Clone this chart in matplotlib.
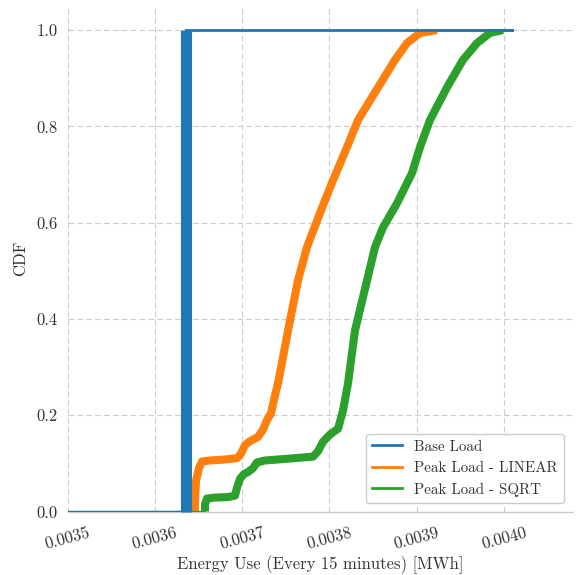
import numpy as np
import matplotlib
matplotlib.use("Agg")
import matplotlib.pyplot as plt
from matplotlib.patches import Rectangle

plt.rcParams['font.family'] = ['cmr10', 'DejaVu Serif']
plt.rcParams['axes.formatter.use_mathtext'] = True
plt.rcParams['mathtext.fontset'] = 'cm'

# ---- data ----
series_names = ["Base Load", "Peak Load - LINEAR", "Peak Load - SQRT"]
series_colors = ["#1f77b4", "#ff7f0e", "#2ca02c"]

base_energy = [0.0036352, 0.0036352, 0.0036352]
base_cdf = [0.0, 0.5, 1.0]

linear_energy = [0.0036460, 0.0036460, 0.0036472, 0.0036506, 0.0036541, 0.0036632,
                 0.0036804, 0.0036942, 0.0036987, 0.0037033, 0.0037090, 0.0037182,
                 0.0037239, 0.0037285, 0.0037331, 0.0037388, 0.0037411, 0.0037468,
                 0.0037526, 0.0037640, 0.0037743, 0.0037892, 0.0038041, 0.0038202,
                 0.0038328, 0.0038557, 0.0038751, 0.0038889, 0.0039038, 0.0039233]
linear_cdf = [0.0, 0.02, 0.064, 0.09, 0.104, 0.106,
              0.108, 0.111, 0.12, 0.138, 0.146, 0.155,
              0.17, 0.19, 0.204, 0.25, 0.266, 0.32,
              0.376, 0.48, 0.549, 0.62, 0.688, 0.757,
              0.813, 0.881, 0.938, 0.973, 0.994, 1.0]

sqrt_energy = [0.0036575, 0.0036575, 0.0036598, 0.0036690, 0.0036838, 0.0036919,
               0.0036942, 0.0036976, 0.0037022, 0.0037067, 0.0037125, 0.0037171,
               0.0037262, 0.0037549, 0.0037812, 0.0037869, 0.0037927, 0.0038007,
               0.0038099, 0.0038156, 0.0038213, 0.0038293, 0.0038431, 0.0038522,
               0.0038614, 0.0038774, 0.0038946, 0.0039038, 0.0039152, 0.0039347,
               0.0039530, 0.0039691, 0.0039840, 0.0039989]
sqrt_cdf = [0.0, 0.015, 0.027, 0.029, 0.030, 0.033,
            0.05, 0.068, 0.078, 0.082, 0.09, 0.102,
            0.106, 0.110, 0.114, 0.125, 0.145, 0.160,
            0.172, 0.21, 0.266, 0.376, 0.48, 0.549,
            0.59, 0.64, 0.703, 0.757, 0.813, 0.881,
            0.938, 0.973, 0.994, 1.0]

global_max = 0.0040097
x_limits = (0.0035, 0.004079)
x_ticks = [0.0035, 0.0036, 0.0037, 0.0038, 0.0039, 0.0040]
x_ticklabels = ["0.0035", "0.0036", "0.0037", "0.0038", "0.0039", "0.0040"]
y_ticks = [0.0, 0.2, 0.4, 0.6, 0.8, 1.0]

fig = plt.figure(figsize=(5.79, 5.75), dpi=100)
ax = fig.add_axes([0.1166, 0.1104, 0.9896 - 0.1166, 0.9896 - 0.1104])

all_data = [(base_energy, base_cdf), (linear_energy, linear_cdf), (sqrt_energy, sqrt_cdf)]
widths = [8.0, 5.8, 5.8]
zorders = [5, 3, 4]
for (xs, ys), name, col, lw, z in zip(all_data, series_names, series_colors, widths, zorders):
    line, = ax.plot(xs, ys, color=col, lw=lw, solid_capstyle='butt',
                    solid_joinstyle='round', zorder=z)
    clip = Rectangle((x_limits[0] - 0.001, -0.1), 0.003, 1.1 + 0.003,
                     transform=ax.transData, visible=False)
    ax.add_patch(clip)
    line.set_clip_path(clip)
    # thin tails: from the left edge at CDF 0, and to the global max at CDF 1
    ax.plot([x_limits[0] - 0.001, xs[0]], [0, 0], color=col, lw=1.6, zorder=z - 0.5)
    ax.plot([xs[-1], global_max], [1, 1], color=col, lw=2.0, zorder=z)
    ax.plot([], [], color=col, lw=2, label=name)

ax.set_xlim(*x_limits)
ax.set_ylim(0, 1.05)
ax.set_xticks(x_ticks)
ax.set_xticklabels(x_ticklabels, rotation=15)
ax.set_yticks(y_ticks)
ax.set_yticklabels([f"{v:.1f}" for v in y_ticks])
ax.tick_params(axis='x', length=0, labelsize=12, colors='#333333', pad=10)
ax.tick_params(axis='y', length=0, labelsize=12, colors='#333333', pad=7)

ax.grid(True, color='#cccccc', ls=(0, (5, 3)), lw=0.8, zorder=0)
ax.set_axisbelow(True)
for s in ['left', 'top', 'right']:
    ax.spines[s].set_visible(False)
ax.spines['bottom'].set_color('#cccccc')
ax.spines['bottom'].set_linewidth(1.0)

ax.set_xlabel("Energy Use (Every 15 minutes) [MWh]", fontsize=12, color='#333333', labelpad=2)
ax.set_ylabel("CDF", fontsize=12, color='#333333', labelpad=6)

leg = ax.legend(loc='lower right', fontsize=10.8, frameon=True, fancybox=True,
                edgecolor='#cccccc', framealpha=1.0, borderaxespad=0.6)
for t in leg.get_texts():
    t.set_color('#333333')

fig.savefig("out.png", dpi=100)
